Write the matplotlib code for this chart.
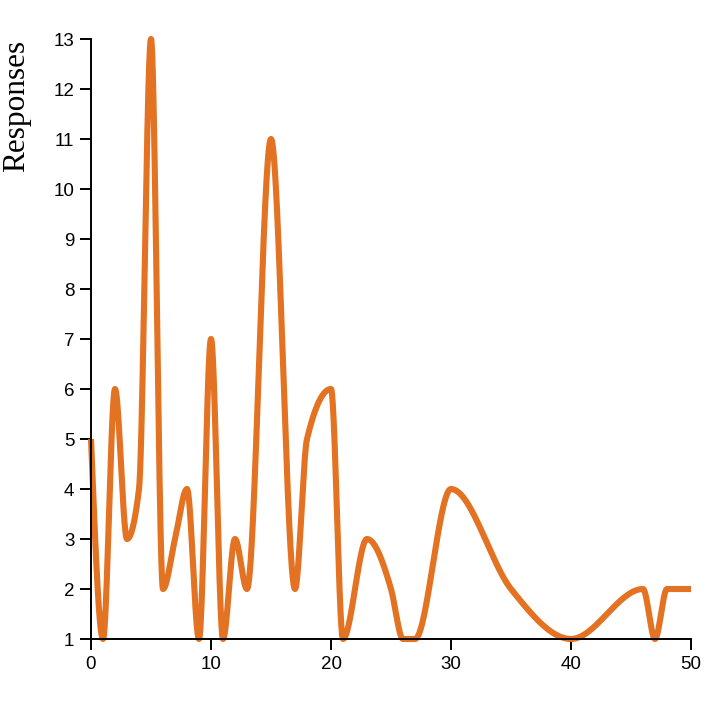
import numpy as np
import matplotlib.pyplot as plt

# data
days = [0, 1, 2, 3, 4, 5, 6, 7, 8, 9, 10, 11, 12, 13, 15, 17, 18, 20, 21,
        23, 25, 26, 27, 30, 35, 40, 46, 47, 48, 50]
responses = [5, 1, 6, 3, 4, 13, 2, 3, 4, 1, 7, 1, 3, 2, 11, 2, 5, 6, 1,
             3, 2, 1, 1, 4, 2, 1, 2, 1, 2, 2]
y_ticks = list(range(1, 14))
x_ticks = [0, 10, 20, 30, 40, 50]


def monotone_x(xs, ys, n=60):
    # same slopes as d3.curveMonotoneX
    xs = np.asarray(xs, float)
    ys = np.asarray(ys, float)
    h = np.diff(xs)
    s = np.diff(ys) / h
    t = np.zeros(len(xs))
    for i in range(1, len(xs) - 1):
        s0, s1 = s[i - 1], s[i]
        p = (s0 * h[i] + s1 * h[i - 1]) / (h[i - 1] + h[i])
        t[i] = (np.sign(s0) + np.sign(s1)) * min(abs(s0), abs(s1), 0.5 * abs(p))
    t[0] = (3 * s[0] - t[1]) / 2
    t[-1] = (3 * s[-1] - t[-2]) / 2
    out_x, out_y = [], []
    for i in range(len(xs) - 1):
        u = np.linspace(0, 1, n)
        hh = h[i]
        h00 = 2 * u**3 - 3 * u**2 + 1
        h10 = u**3 - 2 * u**2 + u
        h01 = -2 * u**3 + 3 * u**2
        h11 = u**3 - u**2
        out_x.extend(xs[i] + u * hh)
        out_y.extend(h00 * ys[i] + h10 * hh * t[i] + h01 * ys[i + 1] + h11 * hh * t[i + 1])
    return np.array(out_x), np.array(out_y)


cx, cy = monotone_x(days, responses)

fig = plt.figure(figsize=(7.05, 7.05), dpi=100)
ax = fig.add_axes([91 / 705, 1 - 639 / 705, 600 / 705, 600 / 705])
ax.plot(cx, cy, color='#e37222', linewidth=4.4, solid_capstyle='butt', clip_on=False)

ax.set_xlim(0, 50)
ax.set_ylim(1, 13)
ax.set_xticks(x_ticks)
ax.set_yticks(y_ticks)
for side in ['top', 'right']:
    ax.spines[side].set_visible(False)
for side in ['left', 'bottom']:
    ax.spines[side].set_linewidth(1.4)
ax.tick_params(length=8, width=1.4, labelsize=13.5, pad=4)
for lab in ax.get_xticklabels() + ax.get_yticklabels():
    lab.set_fontfamily('Liberation Sans')

fig.text(17 / 705, 1 - 40 / 705, 'Responses', rotation=90, ha='center', va='top',
         fontsize=22.5, fontfamily='Liberation Serif')

fig.savefig('out.png', dpi=100)
